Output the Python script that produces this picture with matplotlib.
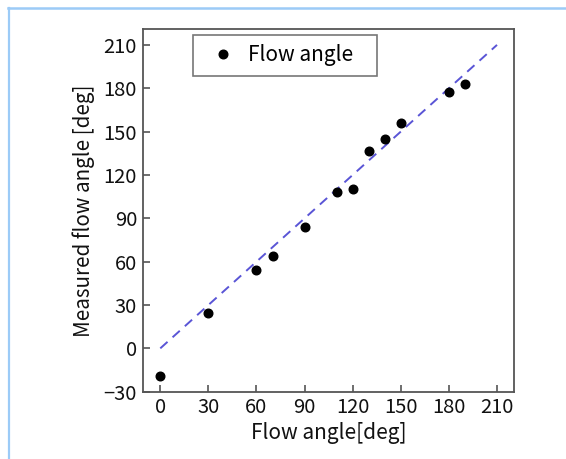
import matplotlib
matplotlib.use("Agg")
import matplotlib.pyplot as plt
from matplotlib.lines import Line2D

plt.rcParams['font.family'] = ['Noto Sans CJK JP', 'DejaVu Sans']

flow_angle = [0, 30, 60, 70, 90, 110, 120, 130, 140, 150, 180, 190]
measured = [-19, 24.5, 54, 63.7, 84, 108, 110, 136.5, 144.6, 155.7, 177.2, 182.7]
ref_x = [0, 210]
ref_y = [0, 210]
ticks_x = [0, 30, 60, 90, 120, 150, 180, 210]
ticks_y = [-30, 0, 30, 60, 90, 120, 150, 180, 210]

fig = plt.figure(figsize=(5.66, 4.59), dpi=100)
# light blue frame lines
fig.add_artist(Line2D([7.7/566, 1], [1 - 7.8/459, 1 - 7.8/459], color='#9ccbf7', lw=1.8, transform=fig.transFigure))
fig.add_artist(Line2D([8.7/566, 8.7/566], [0, 1 - 7.8/459], color='#9ccbf7', lw=1.6, transform=fig.transFigure))

L, B, W, H = 143.3, 391.7, 514 - 143.3, 391.7 - 29
ax = fig.add_axes([L/566, (459-B)/459, W/566, H/459])
ax.plot(ref_x, ref_y, linestyle=(0, (5, 3.5)), color='#5a55d6', lw=1.4, zorder=2)
ax.plot(flow_angle, measured, 'o', color='black', markersize=6.2, zorder=3, label='Flow angle')

ax.set_xlim(-10.6, 220.6)
ax.set_ylim(-30, 221)
ax.set_xticks(ticks_x)
ax.set_yticks(ticks_y)
ax.set_yticklabels(['\u221230' if t < 0 else str(t) for t in ticks_y])
ax.tick_params(direction='in', length=5, width=1.2, color='#555555', labelsize=14.5, labelcolor='#111111')
ax.tick_params(axis='y', pad=4.5)
ax.tick_params(axis='x', pad=3.5)
for s in ax.spines.values():
    s.set_color('#555555')
    s.set_linewidth(1.3)
ax.set_xlabel('Flow angle[deg]', fontsize=15, labelpad=3.5, color='#111111')
ax.set_ylabel('Measured flow angle [deg]', fontsize=14.8, labelpad=6, color='#111111')

x0 = (192.7 - L) / W
x1 = (377.3 - L) / W
ytop = 1 - (35 - 29) / H
leg = ax.legend(loc='upper left', bbox_to_anchor=(x0, ytop - 0.2, x1 - x0, 0.2), mode='expand',
                fontsize=15, frameon=True, fancybox=False, edgecolor='#555555',
                borderpad=0.45, handletextpad=0.2, handlelength=2.0, borderaxespad=0)
leg.get_frame().set_linewidth(1.2)

fig.savefig('out.png', dpi=100, facecolor='white')
